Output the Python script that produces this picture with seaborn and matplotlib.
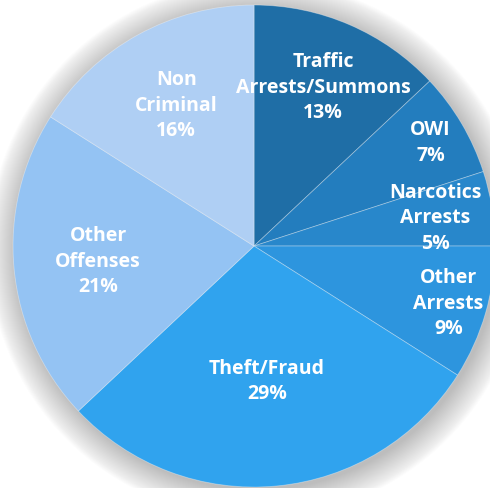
import numpy as np
import matplotlib
matplotlib.use("Agg")
import matplotlib.pyplot as plt
import seaborn as sns
from matplotlib.patches import Circle

# data (clockwise from 12 o'clock)
categories = ["Traffic\nArrests/Summons", "OWI", "Narcotics\nArrests", "Other\nArrests",
              "Theft/Fraud", "Other\nOffenses", "Non\nCriminal"]
shares = [13, 7, 5, 9, 29, 21, 16]
colors = ["#1f6ea6", "#237dbe", "#2887cb", "#2d95de", "#30a3ee", "#94c3f3", "#afcff4"]

# how far out each label sits (fraction of radius)
label_dist = [0.72, 0.85, 0.76, 0.84, 0.56, 0.65, 0.67]

sns.set_theme(style="white")
plt.rcParams['font.family'] = ['Open Sans', 'DejaVu Sans']

fig = plt.figure(figsize=(4.9, 4.89), dpi=100)
ax = fig.add_axes([0, 0, 1, 1])

# soft drop shadow behind the pie
for k in range(30):
    ax.add_patch(Circle((0.012, -0.014), 1.0 + k * 0.004, color="#707070",
                        alpha=0.016, lw=0, zorder=0))

wedges, _ = ax.pie(shares, colors=colors, startangle=90, counterclock=False,
                   radius=1.0, wedgeprops=dict(edgecolor=(1, 1, 1, 0.35), linewidth=0.6))
for w in wedges:
    w.set_zorder(2)

total = sum(shares)
start = 90.0
for name, val, d in zip(categories, shares, label_dist):
    span = 360.0 * val / total
    mid = np.deg2rad(start - span / 2)
    start -= span
    ax.text(d * np.cos(mid), d * np.sin(mid), f"{name}\n{val}%", ha="center", va="center",
            color="white", fontsize=14, fontweight="bold", linespacing=1.38, zorder=3)

ax.set_aspect("auto")
ax.set_xlim(-1.054, 0.979)
ax.set_ylim(-1.004, 1.025)
ax.axis("off")

fig.savefig("out.png", dpi=100)
